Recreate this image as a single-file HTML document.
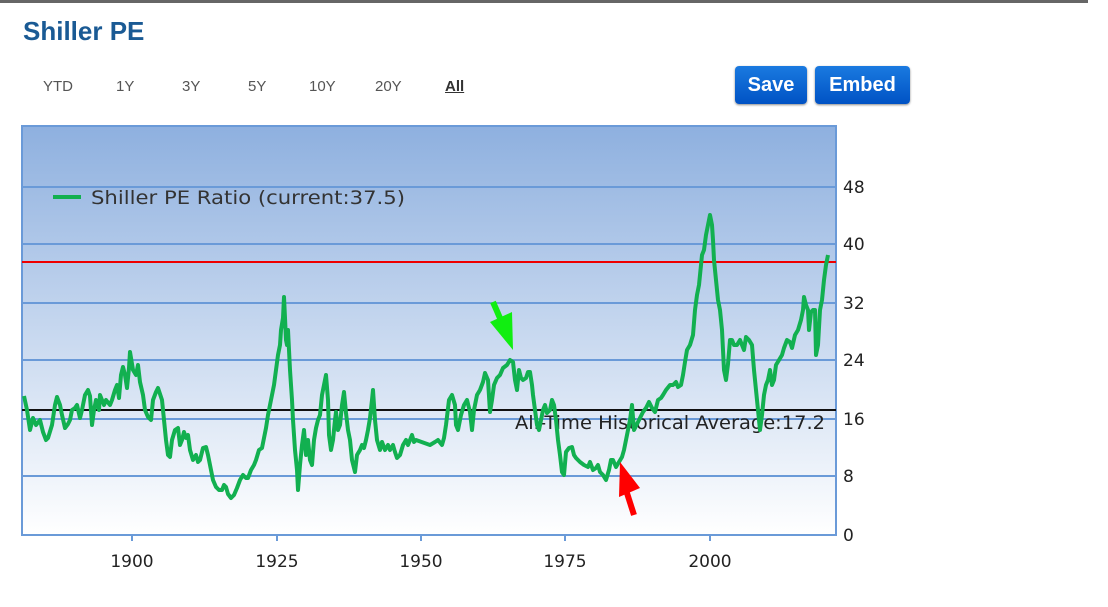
<!DOCTYPE html>
<html><head><meta charset="utf-8"><style>
body{margin:0;width:1108px;height:607px;background:#fff;overflow:hidden;font-family:"Liberation Sans",sans-serif;position:relative}
.bar{position:absolute;left:0;top:0;width:1088px;height:3px;background:#666}
h1{position:absolute;left:23px;top:16px;margin:0;font-size:26px;font-weight:bold;color:#1a5a94}
.rng{position:absolute;top:78px;font-size:15px;color:#555}
.btn{position:absolute;top:66px;height:38px;border-radius:4px;background:linear-gradient(#1a7ae0,#0052c4);color:#fff;font-weight:bold;font-size:20px;line-height:38px;text-align:center;box-shadow:0 1px 2px #888}
</style></head><body>
<div class="bar"></div>
<h1>Shiller PE</h1>
<span class="rng" style="left:43px">YTD</span>
<span class="rng" style="left:116px">1Y</span>
<span class="rng" style="left:182px">3Y</span>
<span class="rng" style="left:248px">5Y</span>
<span class="rng" style="left:309px">10Y</span>
<span class="rng" style="left:375px">20Y</span>
<span class="rng" style="left:445px;font-weight:bold;color:#333;text-decoration:underline">All</span>
<div class="btn" style="left:735px;width:72px">Save</div>
<div class="btn" style="left:815px;width:95px">Embed</div>
<svg width="1108" height="607" style="position:absolute;left:0;top:0">
<defs><linearGradient id="g" x1="0" y1="0" x2="0" y2="1"><stop offset="0" stop-color="#8eb0df"/><stop offset="1" stop-color="#ffffff"/></linearGradient></defs>
<rect x="22" y="126" width="814" height="409" fill="url(#g)" stroke="#6a9ad8" stroke-width="2"/>
<g stroke="#6a9ad8" stroke-width="2">
<line x1="22" x2="836" y1="187" y2="187"/><line x1="22" x2="836" y1="244" y2="244"/>
<line x1="22" x2="836" y1="303" y2="303"/><line x1="22" x2="836" y1="360" y2="360"/>
<line x1="22" x2="836" y1="419" y2="419"/><line x1="22" x2="836" y1="476" y2="476"/>
<line x1="132" x2="132" y1="535" y2="541"/><line x1="277" x2="277" y1="535" y2="541"/>
<line x1="421" x2="421" y1="535" y2="541"/><line x1="565" x2="565" y1="535" y2="541"/>
<line x1="710" x2="710" y1="535" y2="541"/>
</g>
<line x1="22" x2="836" y1="262" y2="262" stroke="#e00" stroke-width="2"/>
<line x1="22" x2="836" y1="410" y2="410" stroke="#111" stroke-width="2"/>
<text x="515" y="429" font-family="DejaVu Sans,sans-serif" font-size="19" fill="#222" textLength="310" lengthAdjust="spacingAndGlyphs">All-Time Historical Average:17.2</text>
<polyline fill="none" stroke="#12b050" stroke-width="4" stroke-linejoin="round" points="24,396 27,410 30,430 33,418 36,425 40,420 43,432 46,440 48,438 52,425 55,405 57,397 60,405 62,415 65,428 68,424 70,420 72,410 75,408 77,405 80,418 82,410 85,395 88,390 90,396 92,425 94,410 96,400 99,410 100,395 104,405 106,400 110,405 112,400 115,390 117,385 119,398 121,375 123,367 125,375 127,388 129,368 130,352 133,370 136,375 138,365 140,382 143,395 145,410 148,417 151,420 153,400 156,392 158,388 160,394 162,400 164,420 166,440 168,455 170,457 172,440 175,430 178,428 180,445 182,440 184,432 186,438 188,435 190,450 193,460 196,455 198,462 200,460 203,448 206,447 208,455 210,465 213,480 216,487 219,490 222,490 224,485 226,487 228,494 231,498 234,495 237,488 240,480 243,475 246,478 248,478 251,470 254,465 256,460 259,450 262,448 264,438 266,428 268,415 271,400 274,385 276,370 278,355 280,345 281,330 283,318 284,297 285,318 286,340 287,345 288,330 289,350 290,370 292,400 293,420 295,450 297,470 298,490 300,465 302,445 304,430 306,455 308,440 310,460 312,465 314,440 316,428 318,420 320,415 322,395 324,385 326,375 328,400 329,435 331,450 333,440 335,420 336,412 338,430 340,425 342,405 344,392 346,413 348,430 350,440 352,460 355,472 357,455 360,450 362,445 364,448 366,440 368,430 370,418 372,400 373,390 375,420 377,440 380,450 382,442 385,450 388,445 390,450 393,445 395,452 397,458 400,455 403,445 406,440 408,445 410,440 412,435 414,442 416,440 430,445 435,442 438,440 442,445 444,438 446,425 449,400 452,395 455,405 456,425 458,430 461,415 464,405 467,400 470,412 472,430 474,410 477,395 480,390 483,382 485,373 488,380 490,412 492,400 494,385 497,378 500,375 503,368 507,365 510,360 513,362 515,380 517,390 519,370 521,378 523,380 526,378 528,372 530,372 532,385 533,395 535,410 537,425 539,430 541,420 543,410 545,405 547,413 550,410 552,400 554,405 556,420 558,440 560,455 562,472 564,475 566,452 569,448 572,447 574,455 576,458 580,462 584,465 588,467 590,462 593,470 596,468 598,465 600,472 603,475 606,480 609,470 611,460 613,460 616,467 619,462 622,457 624,450 626,440 628,430 630,420 632,405 634,430 637,424 640,418 643,412 646,408 649,402 652,408 655,412 658,400 661,398 663,395 666,390 670,385 673,385 676,382 678,387 681,385 683,375 685,362 687,350 690,345 693,335 695,310 697,295 699,285 701,265 702,255 704,250 706,235 708,225 710,215 712,225 713,240 714,260 716,280 718,300 720,310 722,330 724,370 726,380 728,364 730,340 732,340 734,345 737,345 740,340 742,345 744,350 746,337 749,340 752,345 754,370 756,390 758,410 760,430 762,415 764,395 766,385 768,380 770,370 772,385 774,380 776,365 779,360 782,355 784,348 787,340 790,342 792,348 795,335 798,330 801,320 803,310 804,297 806,305 808,310 809,330 811,312 813,310 815,310 816,355 818,345 820,310 822,300 824,280 826,265 828,255"/>
<line x1="53" x2="81" y1="197" y2="197" stroke="#12b050" stroke-width="4"/>
<text x="91" y="204" font-family="DejaVu Sans,sans-serif" font-size="19" fill="#333" textLength="314" lengthAdjust="spacingAndGlyphs">Shiller PE Ratio (current:37.5)</text>
<g font-family="DejaVu Sans,sans-serif" font-size="17" fill="#222">
<text x="843" y="193">48</text><text x="843" y="250">40</text><text x="843" y="309">32</text>
<text x="843" y="366">24</text><text x="843" y="425">16</text><text x="843" y="482">8</text><text x="843" y="541">0</text>
<g text-anchor="middle"><text x="132" y="567">1900</text><text x="277" y="567">1925</text><text x="421" y="567">1950</text><text x="565" y="567">1975</text><text x="710" y="567">2000</text></g>
</g>
<line x1="493" y1="302" x2="503" y2="325" stroke="#11ee11" stroke-width="6"/>
<polygon points="490,322 512,312 513,350" fill="#11ee11"/>
<line x1="634" y1="515" x2="626" y2="490" stroke="#f00" stroke-width="6"/>
<polygon points="620,462 619,497 640,488" fill="#f00"/>
</svg>
</body></html>
